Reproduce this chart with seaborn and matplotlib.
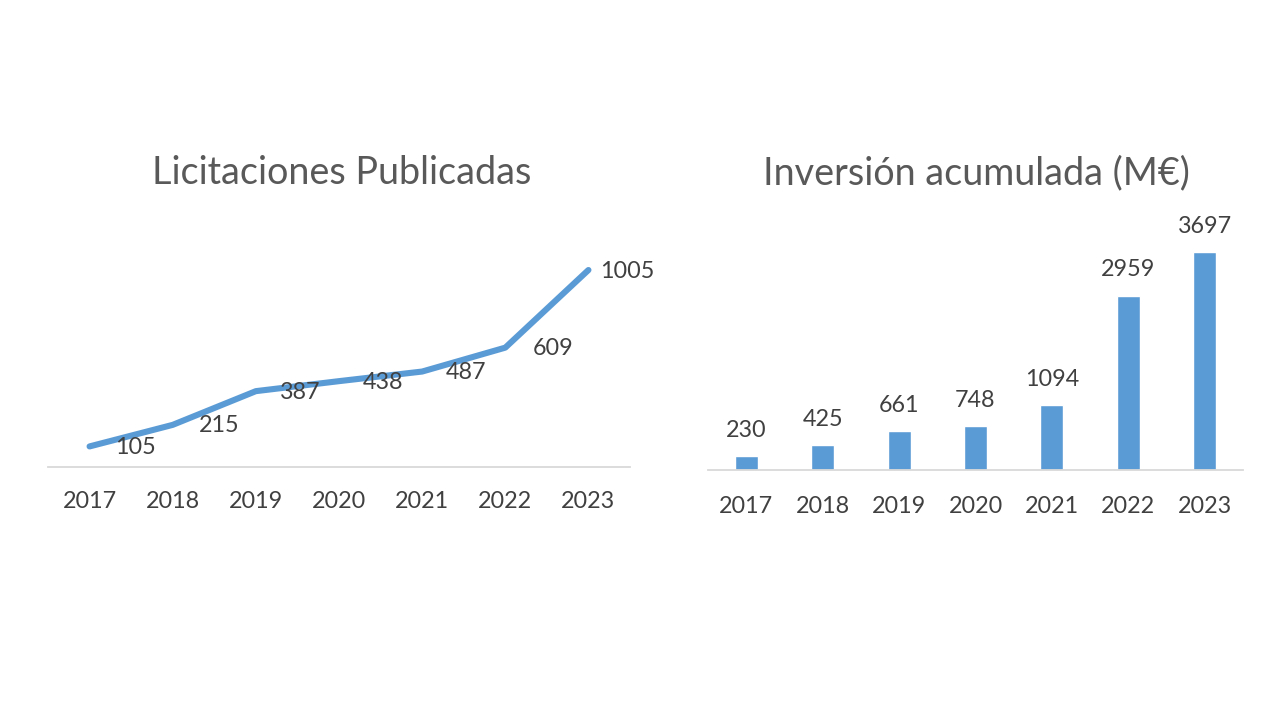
import matplotlib
matplotlib.use("Agg")
import matplotlib.pyplot as plt
import seaborn as sns
import pandas as pd

years = ["2017", "2018", "2019", "2020", "2021", "2022", "2023"]
licitaciones = [105, 215, 387, 438, 487, 609, 1005]
inversion = [230, 425, 661, 748, 1094, 2959, 3697]
title_left = "Licitaciones Publicadas"
title_right = "Inversión acumulada (M€)"

sns.set_theme(style="white")
plt.rcParams["font.family"] = ["Lato", "DejaVu Sans"]

BLUE = "#5B9BD5"
TXT = "#404040"
TTL = "#595959"
AX = "#D9D9D9"

fig = plt.figure(figsize=(12.8, 7.2), dpi=100)
W, H = 1280, 720

def axes_px(x0, x1, ytop, ybot):
    return fig.add_axes([x0 / W, 1 - ybot / H, (x1 - x0) / W, (ybot - ytop) / H])

# Left: line chart
axL = axes_px(48, 630, 250, 467)
dfL = pd.DataFrame({"year": years, "value": licitaciones})
sns.lineplot(data=dfL, x="year", y="value", ax=axL, color=BLUE, lw=4.4,
             sort=False, solid_capstyle="round", solid_joinstyle="round")
axL.set_xlim(-0.5, len(years) - 0.5)
axL.set_ylim(0, (467 - 250) / 0.196)
label_dx = [26, 26, 24, 24, 24, 27, 12]
for i, v in enumerate(licitaciones):
    axL.annotate(str(v), (i, v), xytext=(label_dx[i], -1), textcoords="offset pixels",
                 ha="left", va="center", fontsize=16.8, color=TXT)

# Right: bar chart
axR = axes_px(708, 1243, 240, 470)
dfR = pd.DataFrame({"year": years, "value": inversion})
sns.barplot(data=dfR, x="year", y="value", ax=axR, color=BLUE, saturation=1,
            width=0.3)
axR.set_xlim(-0.5, len(years) - 0.5)
axR.set_ylim(0, (470 - 240) / 0.05897)
for c in axR.containers:
    axR.bar_label(c, labels=[str(v) for v in inversion], padding=11,
                  fontsize=16.8, color=TXT)

for ax, pad in ((axL, 17.5), (axR, 19)):
    ax.set_xlabel("")
    ax.set_ylabel("")
    ax.set_yticks([])
    for s in ("top", "right", "left"):
        ax.spines[s].set_visible(False)
    ax.spines["bottom"].set_color(AX)
    ax.spines["bottom"].set_linewidth(1.3)
    ax.tick_params(axis="x", length=0, pad=pad, labelsize=16.8, labelcolor=TXT)
    ax.patch.set_alpha(0)

fig.text(342 / W, 1 - 173 / H, title_left, ha="center", va="center",
         fontsize=27.2, color=TTL)
fig.text(976 / W, 1 - 173 / H, title_right, ha="center", va="center",
         fontsize=27.2, color=TTL)

fig.savefig("out.png", dpi=100, facecolor="white")
